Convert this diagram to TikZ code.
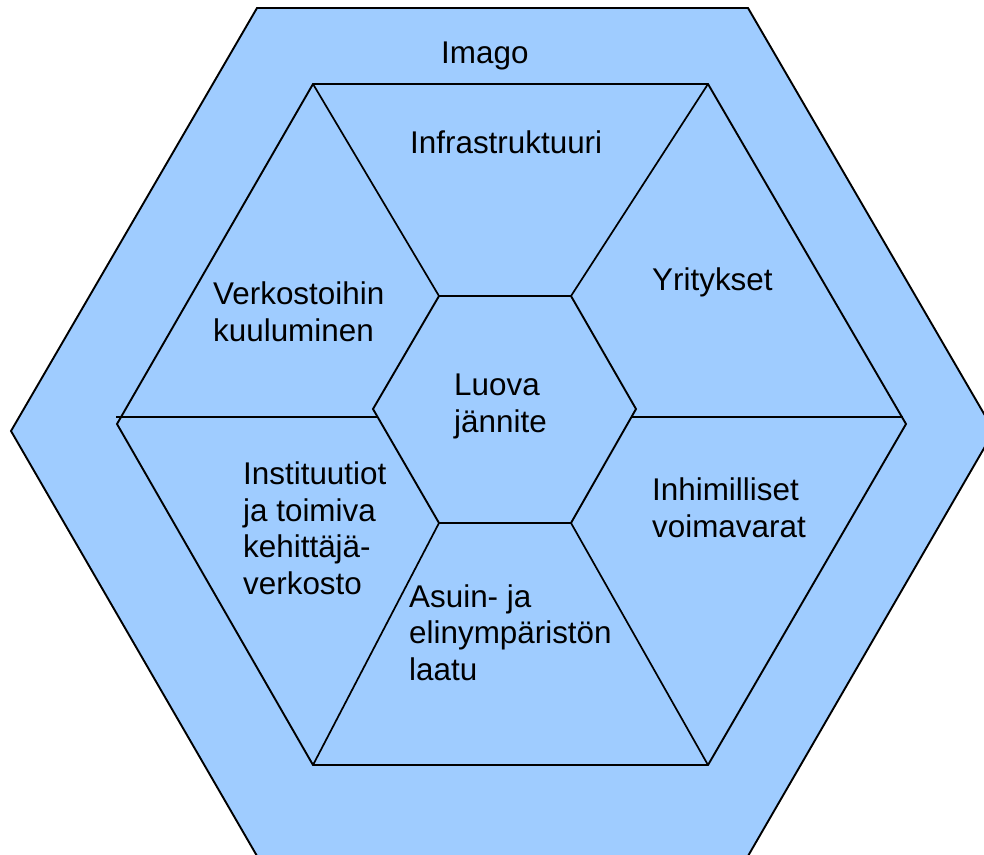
\documentclass[tikz,border=0pt]{standalone}
\usepackage{fontspec}
\setmainfont{Liberation Sans}
\definecolor{hexfill}{RGB}{159,204,255}
\begin{document}
\begin{tikzpicture}[x=1pt,y=-1pt,
  hexline/.style={draw=black,line width=1.9pt,line join=miter},
  spoke/.style={draw=black,line width=1.7pt},
  % labels are placed by the baseline of their last line
  lbl/.style={anchor=base west,inner sep=0pt,align=left,
    font=\fontsize{31.4}{36.5}\selectfont}]
  \useasboundingbox (0,0) rectangle (984,854);
  \clip (0,0) rectangle (984,854);
  % outer hexagon
  \coordinate (o1) at (257,8);
  \coordinate (o2) at (748,8);
  \coordinate (o3) at (994,431);
  \coordinate (o4) at (748,856);
  \coordinate (o5) at (257,856);
  \coordinate (o6) at (11,431);
  \path[hexline,fill=hexfill] (o1)--(o2)--(o3)--(o4)--(o5)--(o6)--cycle;
  % middle hexagon
  \coordinate (m1) at (313,84);
  \coordinate (m2) at (708,84);
  \coordinate (m3) at (906,424);
  \coordinate (m4) at (708,765);
  \coordinate (m5) at (313,765);
  \coordinate (m6) at (117,424);
  \path[hexline] (m1)--(m2)--(m3)--(m4)--(m5)--(m6)--cycle;
  % centre hexagon
  \coordinate (c1) at (439,296);
  \coordinate (c2) at (571,296);
  \coordinate (c3) at (636,409);
  \coordinate (c4) at (571,523);
  \coordinate (c5) at (439,523);
  \coordinate (c6) at (373,409);
  \path[hexline] (c1)--(c2)--(c3)--(c4)--(c5)--(c6)--cycle;
  % spokes between middle and centre hexagons
  \coordinate (sl1) at (116,417);
  \coordinate (sl2) at (377,417);
  \coordinate (sr1) at (632,417);
  \coordinate (sr2) at (903,417);
  \draw[spoke] (m1) -- (c1);
  \draw[spoke] (m2) -- (c2);
  \draw[spoke] (m5) -- (c5);
  \draw[spoke] (m4) -- (c4);
  \draw[spoke] (sl1) -- (sl2);
  \draw[spoke] (sr1) -- (sr2);
  % labels
  \node[lbl] (imago) at (441,63) {Imago};
  \node[lbl] (infra) at (410,153) {Infrastruktuuri};
  \node[lbl] (verk) at (213,341) {Verkostoihin\\kuuluminen};
  \node[lbl] (yrit) at (652,290) {Yritykset};
  \node[lbl] (luova) at (454,432) {Luova\\jännite};
  \node[lbl] (inhim) at (652,537) {Inhimilliset\\voimavarat};
  \node[lbl] (inst) at (243,594) {Instituutiot\\ja toimiva\\kehittäjä-\\verkosto};
  \node[lbl] (asuin) at (409,680) {Asuin- ja\\elinympäristön\\laatu};
\end{tikzpicture}
\end{document}
